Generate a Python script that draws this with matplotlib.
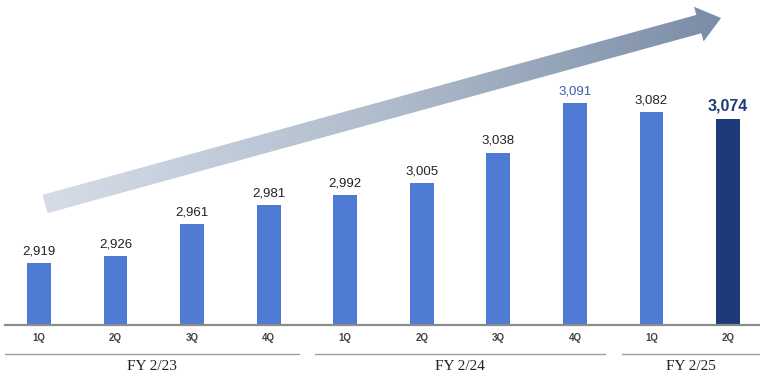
import matplotlib.pyplot as plt
import numpy as np
from matplotlib.colors import LinearSegmentedColormap
from matplotlib.patches import Polygon

quarters = ['1Q', '2Q', '3Q', '4Q', '1Q', '2Q', '3Q', '4Q', '1Q', '2Q']
values = [2919, 2926, 2961, 2981, 2992, 3005, 3038, 3091, 3082, 3074]
years = ['FY 2/23', 'FY 2/24', 'FY 2/25']
year_spans = [(0, 3), (4, 7), (8, 9)]

bar_color = '#4f7bd5'
last_color = '#1f3a78'
label_colors = ['#222222'] * 7 + ['#3b5ca8', '#222222', last_color]

W, H = 760, 377
fig = plt.figure(figsize=(W / 100, H / 100), dpi=100)

# gradient arrow drawn in pixel space behind the bars
arr_ax = fig.add_axes([0, 0, 1, 1], zorder=0)
arr_ax.set_xlim(0, W)
arr_ax.set_ylim(H, 0)
arr_ax.axis('off')
tail = np.array([45.0, 204.0])
tip = np.array([721.0, 18.0])
u = (tip - tail) / np.linalg.norm(tip - tail)
n = np.array([-u[1], u[0]])
base = tip - 23 * u
pts = [tail + 9.5 * n, base + 9.5 * n, base + 18 * n, tip,
       base - 18 * n, base - 9.5 * n, tail - 9.5 * n]
poly = Polygon(pts, closed=True, facecolor='none', edgecolor='none')
arr_ax.add_patch(poly)
cmap = LinearSegmentedColormap.from_list('arr', ['#d6dde7', '#b0bdcd', '#7a8ca6'])
grad = np.linspace(0, 1, 256).reshape(1, -1)
im = arr_ax.imshow(grad, cmap=cmap, aspect='auto', extent=[35, 725, 230, 0], zorder=1)
im.set_clip_path(poly)

# bars
ax = fig.add_axes([0, 0, 1, 1], zorder=1)
ax.patch.set_alpha(0)
x = np.arange(len(values))
y0 = 2853
px = 0.927  # pixels per unit
x_lo, x_hi = -0.509, 9.418
ax.set_xlim(x_lo, x_hi)
ax.set_ylim(y0 - (H - 324) / px, y0 + 324 / px)
colors = [bar_color] * (len(values) - 1) + [last_color]
ax.bar(x, np.array(values) - y0, bottom=y0, width=0.31, color=colors, zorder=2)
ax.axis('off')

for i, v in enumerate(values):
    last = i == len(values) - 1
    ax.annotate(f'{v:,}', (i, v), xytext=(0, 4), textcoords='offset points',
                ha='center', va='bottom', family='Liberation Sans',
                fontsize=11.5 if last else 9.5, fontweight='bold' if last else 'normal',
                color=label_colors[i])

tr = ax.get_xaxis_transform()
line_lo = -0.444
ax.plot([line_lo, x_hi], [1 - 324.5 / H] * 2, color='#8c8c8c', lw=1.6, transform=tr,
        clip_on=False, zorder=3)
for i, q in enumerate(quarters):
    ax.text(i, 1 - 338 / H, q, ha='center', va='center', fontsize=7,
            fontweight='bold', color='#444444', family='Liberation Sans', transform=tr)

for (a, b), name in zip(year_spans, years):
    left = line_lo if a == 0 else a - 0.39
    right = x_hi if b == len(values) - 1 else b + 0.39
    ax.plot([left, right], [1 - 354 / H] * 2, color='#a0a0a0', lw=1.0, transform=tr,
            clip_on=False)
    ax.text((left + right) / 2, 1 - 367 / H, name, ha='center', va='center',
            fontsize=11, family='Liberation Serif', color='#222222', transform=tr)

fig.savefig('out.png', dpi=100)
